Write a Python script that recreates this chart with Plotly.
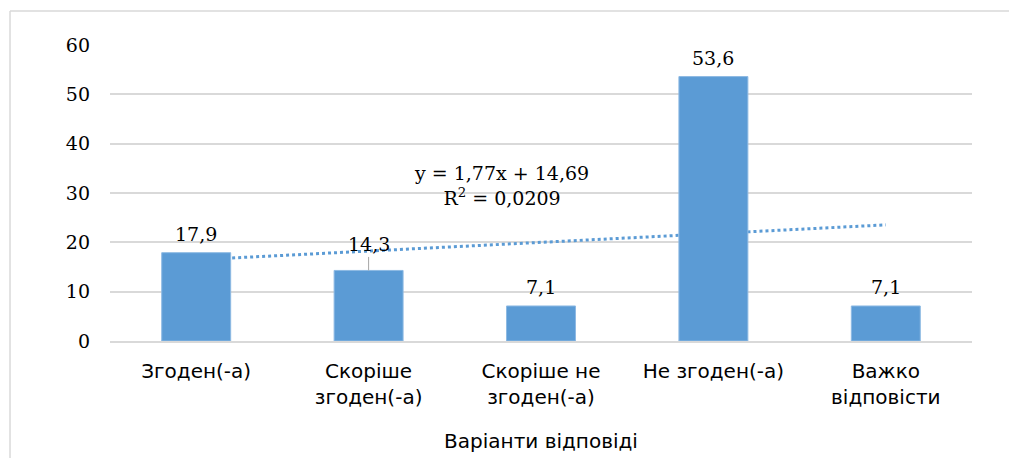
import numpy as np
import plotly.graph_objects as go

categories = ["Згоден(-а)", "Скоріше<br>згоден(-а)", "Скоріше не<br>згоден(-а)", "Не згоден(-а)", "Важко<br>відповісти"]
values = [17.9, 14.3, 7.1, 53.6, 7.1]
y_ticks = [0, 10, 20, 30, 40, 50, 60]
x_title = "Варіанти відповіді"

xs = np.arange(1, len(values) + 1)
slope, intercept = np.polyfit(xs, values, 1)
fit = slope * xs + intercept
ss_res = np.sum((np.array(values) - fit) ** 2)
ss_tot = np.sum((np.array(values) - np.mean(values)) ** 2)
r2 = 1 - ss_res / ss_tot

def fmt(v, d):
    return f"{v:.{d}f}".replace(".", ",")

BLUE = "#5B9BD5"
NUM_FONT = "DejaVu Serif"
TXT_FONT = "DejaVu Sans"

fig = go.Figure()

# trendline on the base axes (drawn beneath the bars, which sit on an overlay)
fig.add_trace(go.Scatter(
    x=xs, y=fit, mode="lines",
    line=dict(color=BLUE, width=3, dash="dot"),
    xaxis="x", yaxis="y", showlegend=False, hoverinfo="skip",
))

fig.add_trace(go.Bar(
    x=xs, y=values, width=0.4,
    marker=dict(color=BLUE, line=dict(color="#8DB9E3", width=1)),
    xaxis="x2", yaxis="y2", showlegend=False,
))

annotations = []
for i, v in enumerate(values):
    if i == 1:
        annotations.append(dict(
            x=xs[i], y=v, xref="x2", yref="y2", text=fmt(v, 1),
            showarrow=True, arrowhead=0, arrowwidth=1, arrowcolor="#A6A6A6",
            ax=0, ay=-26, standoff=0,
            font=dict(family=NUM_FONT, size=19, color="#000"),
        ))
    else:
        annotations.append(dict(
            x=xs[i], y=v, xref="x2", yref="y2", text=fmt(v, 1),
            showarrow=False, yanchor="bottom", yshift=6,
            font=dict(family=NUM_FONT, size=19, color="#000"),
        ))

annotations.append(dict(
    x=2.77, y=31.5, xref="x", yref="y",
    text=f"y = {fmt(slope, 2)}x + {fmt(intercept, 2)}<br>R<sup>2</sup> = {fmt(r2, 4)}",
    showarrow=False, align="center",
    font=dict(family=NUM_FONT, size=19, color="#000"),
))

frame = dict(color="#D9D9D9", width=1.5)
axis_common = dict(range=[0.5, len(values) + 0.5])
fig.update_layout(
    width=1009, height=458,
    margin=dict(l=110, r=37, t=45, b=117),
    paper_bgcolor="white", plot_bgcolor="white",
    separators=", ",
    xaxis=dict(
        **axis_common, tickvals=list(xs), ticktext=categories, automargin=False,
        showgrid=False, zeroline=False, showline=True, linecolor="#D9D9D9", linewidth=1.5,
        ticks="", tickfont=dict(family=TXT_FONT, size=20, color="#000"), ticklabelstandoff=11,
        title=dict(text=x_title, font=dict(family=TXT_FONT, size=20, color="#000"), standoff=26),
    ),
    yaxis=dict(
        range=[0, 60], tickvals=y_ticks, showgrid=True, gridcolor="#D9D9D9", gridwidth=1.5,
        zeroline=False, showline=False, ticks="", automargin=False,
        tickfont=dict(family=NUM_FONT, size=19, color="#000"), ticklabelstandoff=19,
    ),
    xaxis2=dict(**axis_common, overlaying="x", visible=False),
    yaxis2=dict(range=[0, 60], overlaying="y", visible=False),
    annotations=annotations,
    shapes=[
        dict(type="line", xref="paper", yref="paper", x0=-0.116, x1=1.3, y0=1.115, y1=1.115,
             line=frame, layer="below"),
        dict(type="line", xref="paper", yref="paper", x0=-0.116, x1=-0.116, y0=-0.5, y1=1.115,
             line=frame, layer="below"),
    ],
)

fig.write_html(
    "out.html",
    config={"displayModeBar": False},
    post_script="document.body.style.margin='0';document.body.style.overflow='hidden';",
)
